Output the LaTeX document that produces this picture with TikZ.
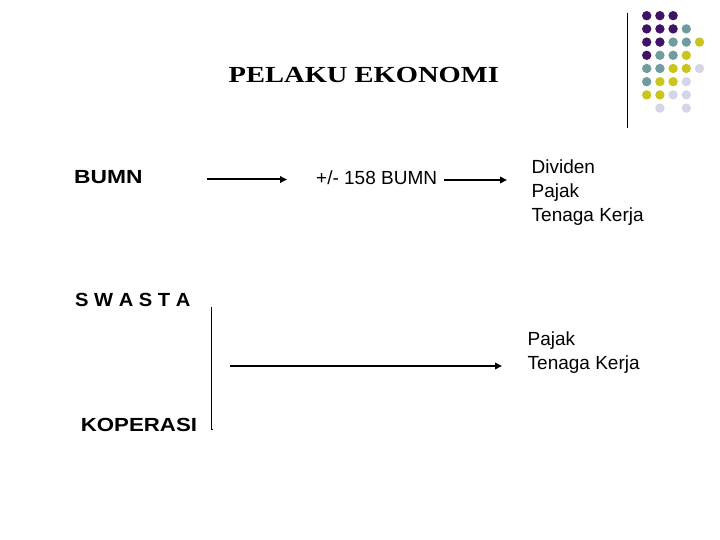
\documentclass[tikz,border=0pt]{standalone}
\usepackage{fontspec}
\setmainfont{Liberation Serif}
\setsansfont{Liberation Sans}
\usetikzlibrary{arrows.meta}

\definecolor{dotP}{HTML}{3F1466}
\definecolor{dotT}{HTML}{6F9C9E}
\definecolor{dotY}{HTML}{C9C51E}
\definecolor{dotL}{HTML}{D5D5EA}

\begin{document}
\begin{tikzpicture}[x=1pt, y=-1pt,
    lbl/.style={font=\sffamily\fontsize{19}{24}\selectfont, anchor=base west, inner sep=0pt, align=left},
    kind/.style={font=\sffamily\bfseries\fontsize{19}{22}\selectfont\addfontfeature{FakeStretch=#1}, anchor=base west, inner sep=0pt},
    ttl/.style={font=\rmfamily\bfseries\fontsize{23}{28}\selectfont\addfontfeature{FakeStretch=1.24}, anchor=base west, inner sep=0pt},
    arrow/.style={-{Triangle[length=7pt, width=6.5pt]}, line width=2pt}
]
    \useasboundingbox (0,0) rectangle (720,540);

    % dot pattern, top right
    \foreach \row/\col/\c in {0/0/P, 0/1/P, 0/2/P,
                              1/0/P, 1/1/P, 1/2/P, 1/3/T,
                              2/0/P, 2/1/P, 2/2/T, 2/3/T, 2/4/Y,
                              3/0/P, 3/1/T, 3/2/T, 3/3/Y,
                              4/0/T, 4/1/T, 4/2/Y, 4/3/Y, 4/4/L,
                              5/0/T, 5/1/Y, 5/2/Y, 5/3/L,
                              6/0/Y, 6/1/Y, 6/2/L, 6/3/L,
                              7/1/L, 7/3/L}
        \fill[dot\c] (646.7+13.2*\col, 15.7+13.2*\row) circle (4.7);
    \draw[line width=1pt] (627.3,12.7) -- (627.3,128.3);

    \node[ttl] (title) at (228.5,82.5) {PELAKU EKONOMI};

    \node[kind=1.2] (bumn) at (74,183.3) {BUMN};
    \node[lbl] (jumlah) at (316,184.5) {+/- 158 BUMN};
    \node[lbl] (hasil1) at (531.5,222) {Dividen\\Pajak\\Tenaga Kerja};

    \node[kind=1.06] (swasta) at (75,306) {S W A S T A};
    \node[kind=1.17] (koperasi) at (80.7,431.7) {KOPERASI};
    \node[lbl] (hasil2) at (527.5,369.3) {Pajak\\Tenaga Kerja};

    \coordinate (a1s) at (207,179.5);
    \coordinate (a1e) at (287,179.5);
    \coordinate (a2s) at (444,180);
    \coordinate (a2e) at (507,180);
    \coordinate (a3s) at (230,366);
    \coordinate (a3e) at (502,366);
    \coordinate (v1s) at (211,307);
    \coordinate (v1e) at (211,429);

    \draw[arrow] (a1s) -- (a1e);
    \draw[arrow] (a2s) -- (a2e);
    \draw[arrow, line width=2.4pt] (a3s) -- (a3e);
    \draw[line width=1pt] (v1s) -- (v1e) -- ++(2,0);
\end{tikzpicture}
\end{document}
